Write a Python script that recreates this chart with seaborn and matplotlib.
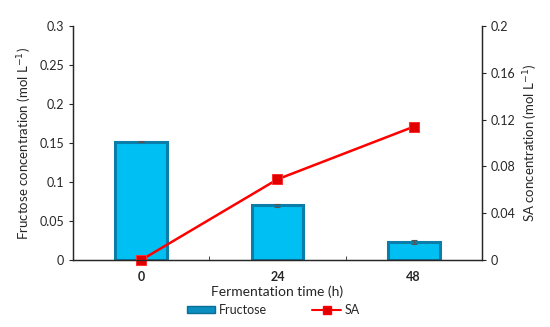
import numpy as np
import pandas as pd
import seaborn as sns
import matplotlib.pyplot as plt
from matplotlib.lines import Line2D
from matplotlib.patches import Patch

sns.set_style("ticks")
plt.rcParams['font.family'] = ['Lato', 'DejaVu Sans']

# data
times = ['0', '24', '48']
fructose = [0.152, 0.070, 0.023]
fructose_err = [0.0005, 0.002, 0.003]
sa = [0.0, 0.069, 0.114]

df = pd.DataFrame({'time': times, 'fructose': fructose})
pos = np.arange(len(times))

fig = plt.figure(figsize=(5.5, 3.27), dpi=100)
ax = fig.add_axes([0.133, 0.205, 0.743, 0.715])

sns.barplot(data=df, x='time', y='fructose', ax=ax, width=0.38,
            color='#00BFF2', edgecolor='#0A7DA8', linewidth=2.2, saturation=1)
ax.errorbar(pos, fructose, yerr=fructose_err, fmt='none', ecolor='#555555',
            elinewidth=0.8, capsize=2.5, capthick=0.8)

ax.set_ylim(0, 0.3)
ax.set_yticks([0, 0.05, 0.1, 0.15, 0.2, 0.25, 0.3])
ax.set_yticklabels(['0', '0.05', '0.1', '0.15', '0.2', '0.25', '0.3'])
ax.set_xlim(-0.5, 2.5)
ax.set_xticks(pos + 0.5, minor=True)
ax.tick_params(axis='x', which='major', length=0, labelsize=9, pad=8)
ax.tick_params(axis='x', which='minor', length=3, direction='in')
ax.tick_params(axis='y', labelsize=9, length=3)
for lab in ax.get_xticklabels():
    lab.set_fontweight('bold')
ax.set_xlabel('Fermentation time (h)', fontsize=10, labelpad=2)
ax.set_ylabel('Fructose concentration (mol L$^{-1}$)', fontsize=9.5)

ax2 = ax.twinx()
sns.lineplot(x=pos, y=sa, ax=ax2, color='#FF0000', linewidth=1.8,
             marker='s', markersize=7, markerfacecolor='#E00000',
             markeredgecolor='#FF3030', clip_on=False)
ax2.set_ylim(0, 0.2)
ax2.set_yticks([0, 0.04, 0.08, 0.12, 0.16, 0.2])
ax2.set_yticklabels(['0', '0.04', '0.08', '0.12', '0.16', '0.2'])
ax2.tick_params(axis='y', labelsize=9, length=3)
ax2.set_ylabel('SA concentration (mol L$^{-1}$)', fontsize=9.5)

for a in (ax, ax2):
    a.spines['top'].set_visible(False)
    for s in a.spines.values():
        s.set_linewidth(0.9)

handles = [Patch(facecolor='#0A8FC0', edgecolor='#0A6E96', label='Fructose'),
           Line2D([0], [0], color='#FF0000', marker='s', markersize=6,
                  markerfacecolor='#E00000', label='SA')]
fig.legend(handles=handles, loc='lower center', bbox_to_anchor=(0.497, 0.0),
           ncol=2, frameon=False, fontsize=9, handlelength=2.3,
           handleheight=0.45, handletextpad=0.3, columnspacing=3.6)

fig.savefig('out.png', dpi=100)
